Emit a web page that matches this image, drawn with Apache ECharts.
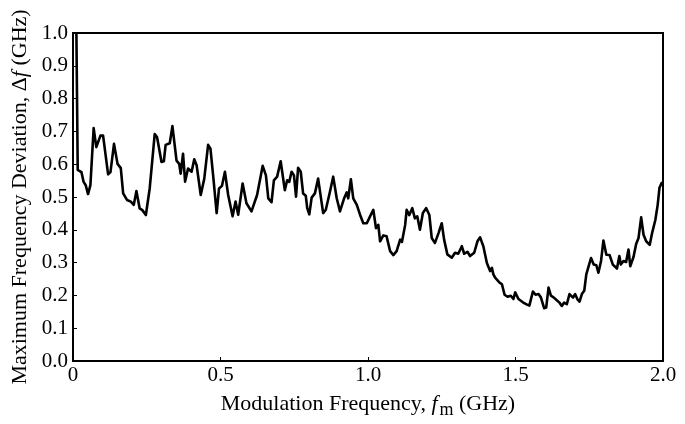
<!DOCTYPE html>
<html>
<head>
<meta charset="utf-8">
<script src="https://cdn.jsdelivr.net/npm/echarts@6/dist/echarts.min.js"></script>
<style>html,body{margin:0;padding:0;background:#fff}#c{width:685px;height:424px}</style>
</head>
<body>
<div id="c"></div>
<script>
const freqGHz = [0.0115,0.016,0.0285,0.036,0.043,0.051,0.059,0.070,0.079,0.093,0.102,0.119,0.127,0.139,0.151,0.162,0.170,0.183,0.196,0.206,0.215,0.226,0.235,0.247,0.260,0.277,0.285,0.300,0.308,0.314,0.328,
0.337,0.351,0.360,0.365,0.373,0.380,0.390,0.402,0.411,0.419,0.433,0.445,0.458,0.466,0.475,0.487,0.495,0.505,0.515,0.526,0.541,0.551,0.560,0.575,0.588,0.605,0.624,0.643,0.654,0.662,
0.673,0.681,0.692,0.704,0.718,0.726,0.733,0.741,0.749,0.756,0.763,0.772,0.780,0.789,0.794,0.801,0.809,0.820,0.831,0.848,0.857,0.871,0.882,0.894,0.905,0.919,0.928,0.933,0.942,0.950,0.962,0.973,0.984,0.996,1.007,
1.018,1.027,1.035,1.041,1.052,1.063,1.075,1.086,1.097,1.109,1.115,1.126,1.131,1.140,1.150,1.159,1.167,1.176,1.186,1.197,1.208,1.216,1.227,1.239,1.250,1.258,1.269,1.284,1.295,1.306,1.318,1.326,1.337,1.346,
1.360,1.371,1.380,1.391,1.403,1.414,1.420,1.425,1.431,1.437,1.446,1.454,1.463,1.473,1.484,1.493,1.499,1.510,1.525,1.539,1.547,1.559,1.568,1.578,1.586,1.597,1.604,1.612,1.620,1.629,1.640,1.649,1.657,1.665,1.674,1.683,
1.695,1.702,1.710,1.717,1.725,1.733,1.740,1.748,1.756,1.765,1.774,1.781,1.790,1.798,1.808,1.819,1.830,1.844,1.852,1.857,1.866,1.875,1.883,1.889,1.900,1.909,1.917,1.926,1.934,1.943,1.955,1.963,1.974,1.982,1.988,1.997];
const deviationGHz = [1.0,0.583,0.576,0.546,0.536,0.509,0.536,0.710,0.652,0.687,0.687,0.569,0.576,0.662,0.601,0.588,0.511,0.491,0.486,0.476,0.518,0.465,0.460,0.445,0.526,0.692,0.682,0.607,0.609,0.659,0.664,
0.716,0.611,0.601,0.571,0.632,0.547,0.587,0.577,0.615,0.597,0.506,0.556,0.659,0.647,0.566,0.451,0.526,0.534,0.577,0.506,0.441,0.486,0.446,0.541,0.481,0.456,0.506,0.595,0.566,0.496,
0.484,0.551,0.562,0.609,0.521,0.551,0.546,0.577,0.566,0.501,0.589,0.577,0.511,0.504,0.466,0.447,0.498,0.511,0.556,0.451,0.461,0.516,0.562,0.496,0.456,0.496,0.514,0.496,0.554,0.496,0.476,0.446,0.420,0.420,0.441,
0.461,0.405,0.415,0.365,0.383,0.380,0.335,0.323,0.335,0.370,0.363,0.415,0.461,0.445,0.466,0.435,0.441,0.400,0.451,0.466,0.445,0.375,0.360,0.390,0.420,0.370,0.325,0.315,0.330,0.327,0.350,0.327,0.333,0.320,
0.330,0.365,0.377,0.350,0.299,0.274,0.284,0.264,0.254,0.259,0.239,0.234,0.202,0.196,0.199,0.189,0.209,0.189,0.179,0.172,0.169,0.212,0.202,0.204,0.194,0.161,0.163,0.224,0.199,0.194,0.185,0.178,0.168,0.178,0.173,0.204,
0.193,0.204,0.188,0.181,0.204,0.214,0.264,0.289,0.314,0.294,0.292,0.269,0.305,0.367,0.324,0.323,0.294,0.282,0.320,0.294,0.305,0.302,0.340,0.289,0.317,0.357,0.375,0.438,0.385,0.365,0.354,0.390,0.430,0.476,0.528,0.546];
const xTickLabels = ['0','0.5','1.0','1.5','2.0'];
const yTickLabels = ['0.0','0.1','0.2','0.3','0.4','0.5','0.6','0.7','0.8','0.9','1.0'];

const chart = echarts.init(document.getElementById('c'), null, {renderer:'canvas'});
const font = 'Liberation Serif';
const pts = freqGHz.map((x,i)=>[x, deviationGHz[i]]);
chart.setOption({
  animation:false,
  backgroundColor:'#fff',
  textStyle:{fontFamily:font},
  grid:{left:73, right:22, top:33, bottom:57, show:true, borderColor:'#000', borderWidth:2, backgroundColor:'transparent'},
  xAxis:{
    type:'value', min:0, max:2, interval:0.5,
    axisLine:{show:true, lineStyle:{color:'#000', width:2}},
    axisTick:{show:true, inside:true, length:4, lineStyle:{color:'#000', width:1}},
    splitLine:{show:false},
    axisLabel:{color:'#000', fontSize:21, fontFamily:font, margin:4,
      formatter:(v)=>xTickLabels[Math.round(v/0.5)]},
    name:'Modulation Frequency, {i|f}{s|m}{n| (GHz)}',
    nameLocation:'middle', nameGap:28,
    nameTextStyle:{color:'#000', fontSize:22, fontFamily:font, verticalAlign:'top',
      rich:{n:{fontSize:22,fontFamily:font,color:'#000'}, i:{fontSize:22,fontFamily:font,fontStyle:'italic',color:'#000'}, s:{fontSize:18,fontFamily:font,color:'#000',padding:[12,0,0,2]}}}
  },
  yAxis:{
    type:'value', min:0, max:1, interval:0.1,
    axisLine:{show:true, lineStyle:{color:'#000', width:2}},
    axisTick:{show:true, inside:true, length:4, lineStyle:{color:'#000', width:1}},
    splitLine:{show:false},
    axisLabel:{color:'#000', fontSize:21, fontFamily:font, margin:5,
      formatter:(v)=>yTickLabels[Math.round(v*10)]},
    name:'{n|Maximum Frequency Deviation, Δ}{i|f}{n| (GHz)}',
    nameLocation:'middle', nameGap:38, nameRotate:90,
    nameTextStyle:{color:'#000', fontSize:22, fontFamily:font,
      rich:{n:{fontSize:22,fontFamily:font,color:'#000'}, i:{fontSize:22,fontFamily:font,fontStyle:'italic',color:'#000'}}}
  },
  series:[{type:'line', data:pts, showSymbol:false, smooth:false,
    lineStyle:{color:'#000', width:2.6, join:'round'}, clip:true}]
});
</script>
</body>
</html>
